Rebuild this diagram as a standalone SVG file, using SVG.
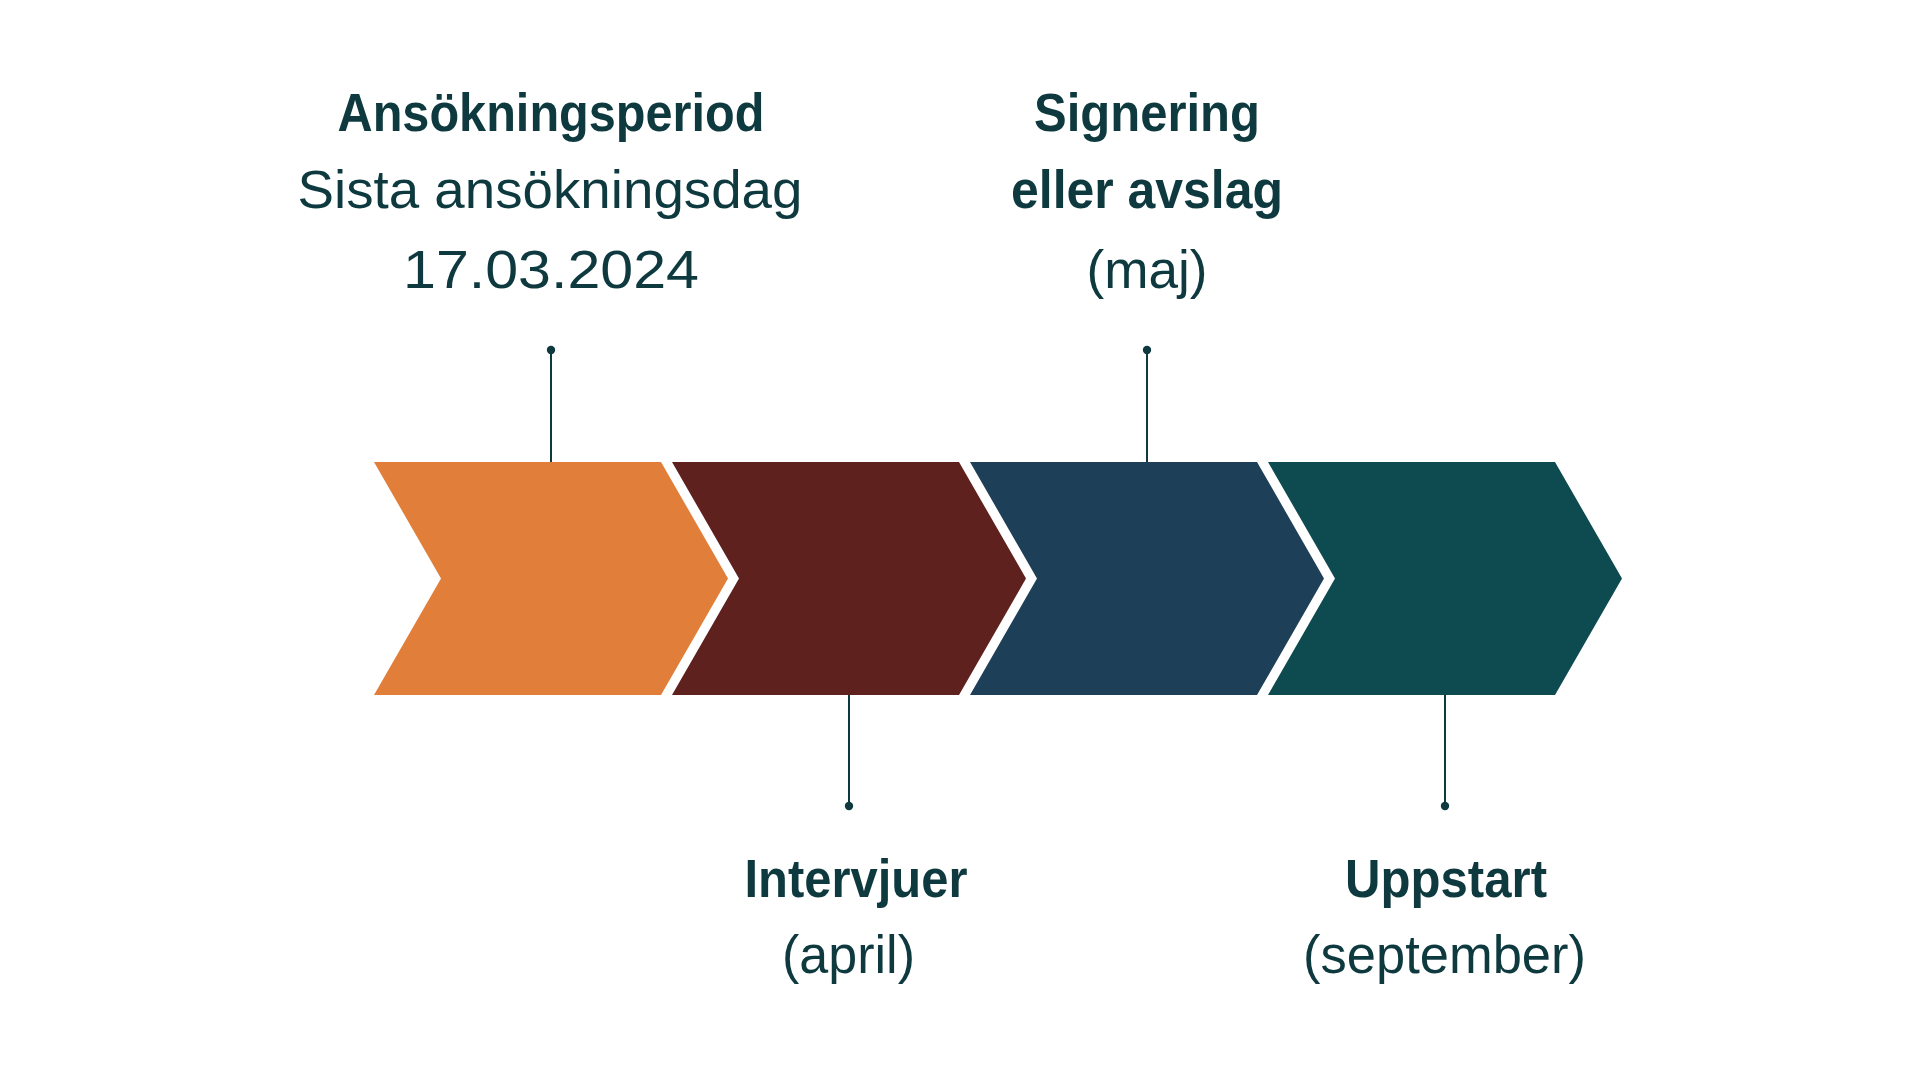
<svg xmlns="http://www.w3.org/2000/svg" width="1920" height="1080" viewBox="0 0 1920 1080">
<style>
.t{font-family:"Liberation Sans","Noto Sans",sans-serif;font-size:53px;fill:#0e3a3f;text-anchor:middle}
.b{font-weight:bold}
.ln{stroke:#0e3a3f;stroke-width:2;fill:none}
.dot{fill:#0e3a3f}
</style>
<rect width="1920" height="1080" fill="#ffffff"/>
<g id="step1"><polygon points="374,462 661,462 728,578.5 661,695 374,695 441,578.5" fill="#e17e3a"/></g>
<g id="step2"><polygon points="672,462 959,462 1026,578.5 959,695 672,695 739,578.5" fill="#5e211e"/></g>
<g id="step3"><polygon points="970,462 1257,462 1324,578.5 1257,695 970,695 1037,578.5" fill="#1d3f58"/></g>
<g id="step4"><polygon points="1268,462 1555,462 1622,578.5 1555,695 1268,695 1335,578.5" fill="#0e4b50"/></g>
<g id="connectors">
<line class="ln" x1="551" y1="350" x2="551" y2="462"/><circle class="dot" cx="551" cy="350" r="4.2"/>
<line class="ln" x1="1147" y1="350" x2="1147" y2="462"/><circle class="dot" cx="1147" cy="350" r="4.2"/>
<line class="ln" x1="849" y1="695" x2="849" y2="806"/><circle class="dot" cx="849" cy="806" r="4.2"/>
<line class="ln" x1="1445" y1="695" x2="1445" y2="806"/><circle class="dot" cx="1445" cy="806" r="4.2"/>
</g>
<g id="label1">
<text class="t b" x="551" y="131" textLength="427" lengthAdjust="spacingAndGlyphs">Ansökningsperiod</text>
<text class="t" x="550" y="208" textLength="505" lengthAdjust="spacingAndGlyphs">Sista ansökningsdag</text>
<text class="t" x="551" y="288" textLength="296" lengthAdjust="spacingAndGlyphs">17.03.2024</text>
</g>
<g id="label3">
<text class="t b" x="1147" y="131" textLength="226" lengthAdjust="spacingAndGlyphs">Signering</text>
<text class="t b" x="1147" y="208" textLength="272" lengthAdjust="spacingAndGlyphs">eller avslag</text>
<text class="t" x="1147" y="288" textLength="121" lengthAdjust="spacingAndGlyphs">(maj)</text>
</g>
<g id="label2">
<text class="t b" x="856" y="897" textLength="223" lengthAdjust="spacingAndGlyphs">Intervjuer</text>
<text class="t" x="848.5" y="973" textLength="133" lengthAdjust="spacingAndGlyphs">(april)</text>
</g>
<g id="label4">
<text class="t b" x="1446" y="897" textLength="202" lengthAdjust="spacingAndGlyphs">Uppstart</text>
<text class="t" x="1444.5" y="973" textLength="283" lengthAdjust="spacingAndGlyphs">(september)</text>
</g>
</svg>
